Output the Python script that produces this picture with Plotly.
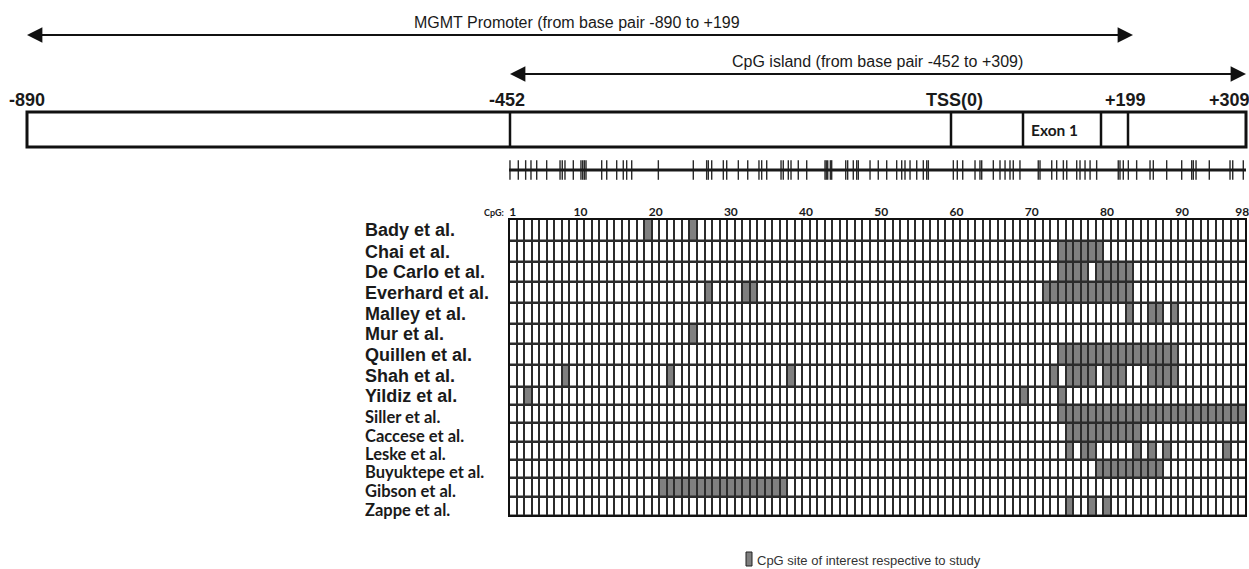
import plotly.graph_objects as go

# ---------------- DATA ----------------
studies = ["Bady et al.", "Chai et al.", "De Carlo et al.", "Everhard et al.", "Malley et al.",
           "Mur et al.", "Quillen et al.", "Shah et al.", "Yildiz et al.", "Siller et al.",
           "Caccese et al.", "Leske et al.", "Buyuktepe et al.", "Gibson et al.", "Zappe et al."]

bady_sites = [19, 25]
chai_sites = [74, 75, 76, 77, 78, 79]
decarlo_sites = [74, 75, 76, 77, 79, 80, 81, 82, 83]
everhard_sites = [27, 32, 33, 72, 73, 74, 75, 76, 77, 78, 79, 80, 81, 82, 83]
malley_sites = [83, 86, 87, 89]
mur_sites = [25]
quillen_sites = [74, 75, 76, 77, 78, 79, 80, 81, 82, 83, 84, 85, 86, 87, 88, 89]
shah_sites = [8, 22, 38, 73, 75, 76, 77, 78, 80, 81, 82, 86, 87, 88, 89]
yildiz_sites = [3, 69, 74]
siller_sites = [74, 75, 76, 77, 78, 79, 80, 81, 82, 83, 84, 85, 86, 87, 88, 89, 90, 91, 92,
                93, 94, 95, 96, 97, 98]
caccese_sites = [75, 76, 77, 78, 79, 80, 81, 82, 83, 84]
leske_sites = [75, 77, 78, 84, 86, 88, 96]
buyuktepe_sites = [79, 80, 81, 82, 83, 84, 85, 86, 87]
gibson_sites = [21, 22, 23, 24, 25, 26, 27, 28, 29, 30, 31, 32, 33, 34, 35, 36, 37]
zappe_sites = [75, 78, 80]

study_sites = [bady_sites, chai_sites, decarlo_sites, everhard_sites, malley_sites, mur_sites,
               quillen_sites, shah_sites, yildiz_sites, siller_sites, caccese_sites, leske_sites,
               buyuktepe_sites, gibson_sites, zappe_sites]

n_cpg = 98
cpg_tick_vals = [1, 10, 20, 30, 40, 50, 60, 70, 80, 90, 98]

# CpG site positions along the CpG island (bp)
cpg_positions_bp = [-451.0, -442.4, -434.8, -429.3, -423.4, -413.1, -399.3, -397.0, -394.2,
                    -385.6, -377.7, -375.9, -374.2, -372.5, -356.3, -351.1, -340.8, -334.0,
                    -330.5, -325.3, -297.8, -261.7, -247.9, -246.2, -242.7, -230.7, -227.2,
                    -215.2, -205.5, -193.9, -191.1, -185.9, -171.1, -168.8, -163.6, -160.8,
                    -153.3, -144.6, -125.7, -124.4, -122.9, -120.2, -118.8, -104.3, -102.3,
                    -96.5, -93.0, -91.3, -79.2, -70.7, -62.0, -51.7, -46.5, -43.1, -37.9,
                    -31.0, -24.2, -20.7, -19.0, 6.8, 10.9, 16.5, 29.2, 34.3, 36.1, 48.1,
                    55.0, 60.2, 65.3, 68.7, 75.6, 94.5, 96.3, 108.4, 113.5, 120.4, 123.9,
                    134.2, 137.6, 142.8, 148.0, 154.8, 177.1, 178.9, 182.3, 187.5, 196.1,
                    209.9, 213.3, 227.1, 242.6, 252.9, 254.6, 257.4, 271.1, 292.5, 295.3,
                    306.2]
island_start_bp = -452
island_end_bp = 309

region_labels = ["-890", "-452", "TSS(0)", "+199", "+309"]
promoter_text = "MGMT Promoter (from base pair -890 to +199"
island_text = "CpG island (from base pair -452 to +309)"
exon_text = "Exon 1"
legend_text = "CpG site of interest respective to study"

# ---------------- LAYOUT CONSTANTS ----------------
W, H = 1249, 569
GRID_X0, GRID_X1 = 509, 1246
GRID_Y0, GRID_Y1 = 219, 516
ROW_HEIGHTS = [22, 21, 20, 21, 21, 20, 21, 22, 18, 18, 19, 18, 18, 19, 19]
LINE_Y = 170
BOX_X0, BOX_X1, BOX_Y0, BOX_Y1 = 27, 1246, 112, 147
DIVIDERS = [510, 951, 1023, 1101, 1128]
LABEL_X = [27, 507, 954, 1125, 1229]
LABEL_Y = 100
STUDY_LABEL_X = 363
ARROWS = [(27, 1133, 35), (510, 1246, 74)]

TXT = "#1a1a1a"
GREY = "#7f7f7f"

row_edges = [0]
for h in ROW_HEIGHTS:
    row_edges.append(row_edges[-1] + h)
row_centers = [(row_edges[i] + row_edges[i + 1]) / 2 for i in range(len(ROW_HEIGHTS))]

cpg_index = list(range(1, n_cpg + 1))
z = [[1 if c in sites else 0 for c in cpg_index] for sites in study_sites]

fig = go.Figure()

fig.add_trace(go.Heatmap(
    x=cpg_index, y=row_edges, z=z, xaxis="x2", yaxis="y2",
    colorscale=[[0, "#ffffff"], [1, GREY]], zmin=0, zmax=1, showscale=False,
    xgap=2, ygap=2.5, hoverinfo="skip"))

fig.add_trace(go.Scatter(
    x=cpg_positions_bp, y=[LINE_Y] * len(cpg_positions_bp), xaxis="x3", yaxis="y",
    mode="markers", marker=dict(symbol="line-ns", size=14,
                                line=dict(width=1.4, color="#2a2a2a")),
    hoverinfo="skip", showlegend=False))

shapes = []
shapes.append(dict(type="rect", xref="x2 domain", yref="y2 domain", x0=0, x1=1, y0=0, y1=1,
                   fillcolor="#2b2b2b", line=dict(width=0), layer="below"))
shapes.append(dict(type="rect", xref="x2 domain", yref="y2 domain", x0=0, x1=1, y0=0, y1=1,
                   fillcolor="rgba(0,0,0,0)", line=dict(width=2, color="#111111")))
shapes.append(dict(type="rect", xref="x", yref="y", x0=BOX_X0, x1=BOX_X1, y0=BOX_Y0, y1=BOX_Y1,
                   line=dict(width=3, color="#111111"), fillcolor="rgba(0,0,0,0)"))
for dx in DIVIDERS:
    shapes.append(dict(type="line", xref="x", yref="y", x0=dx, x1=dx, y0=BOX_Y0, y1=BOX_Y1,
                       line=dict(width=2.5, color="#111111")))
shapes.append(dict(type="line", xref="x3 domain", yref="y", x0=0, x1=1, y0=LINE_Y, y1=LINE_Y,
                   line=dict(width=3, color="#1a1a1a")))
shapes.append(dict(type="rect", xref="x", yref="y", x0=746, x1=752, y0=552, y1=566,
                   fillcolor=GREY, line=dict(width=1, color="#222222")))
for (xa, xb, yy) in ARROWS:
    shapes.append(dict(type="line", xref="x", yref="y", x0=xa + 6, x1=xb - 6, y0=yy, y1=yy,
                       line=dict(width=2.2, color="#111111")))

ann = []
for (xa, xb, yy) in ARROWS:
    for tip, back in ((xa, xa + 40), (xb, xb - 40)):
        ann.append(dict(x=tip, y=yy, ax=back, ay=yy, xref="x", yref="y", axref="x", ayref="y",
                        text="", showarrow=True, arrowhead=2, arrowsize=1.4, arrowwidth=2.2,
                        arrowcolor="#111111", standoff=0, startstandoff=0))
ann.append(dict(x=577, y=22, xref="x", yref="y", text=promoter_text, showarrow=False,
                font=dict(family="Liberation Sans", size=16, color=TXT)))
ann.append(dict(x=877, y=61, xref="x", yref="y", text=island_text, showarrow=False,
                font=dict(family="Liberation Sans", size=16, color=TXT)))
for lbl, lx in zip(region_labels, LABEL_X):
    ann.append(dict(x=lx, y=LABEL_Y, xref="x", yref="y", text="<b>%s</b>" % lbl,
                    showarrow=False, font=dict(family="Liberation Sans", size=18, color=TXT)))
ann.append(dict(x=(DIVIDERS[2] + DIVIDERS[3]) / 2 - 8, y=(BOX_Y0 + BOX_Y1) / 2, xref="x", yref="y",
                text="<b>%s</b>" % exon_text, showarrow=False,
                font=dict(family="Lato", size=15.5, color=TXT)))
ann.append(dict(x=GRID_X0 - 3, y=212, xref="x", yref="y", text="<b>CpG:</b>", xanchor="right",
                showarrow=False, font=dict(family="Lato", size=9, color=TXT)))
for i, (name, yc) in enumerate(zip(studies, row_centers)):
    if i < 9:
        f = dict(family="Liberation Sans", size=18, color=TXT)
        ys = 0
    else:
        f = dict(family="Lato", size=16.5, color=TXT)
        ys = -3
    ann.append(dict(x=STUDY_LABEL_X, y=yc, xref="x", yref="y2", text="<b>%s</b>" % name,
                    xanchor="left", showarrow=False, font=f, yshift=ys))
ann.append(dict(x=755, y=560, xref="x", yref="y", text=legend_text, xanchor="left",
                showarrow=False, font=dict(family="Liberation Sans", size=13, color="#333333")))

fig.update_layout(
    width=W, height=H, autosize=False, margin=dict(l=0, r=0, t=0, b=0, autoexpand=False),
    paper_bgcolor="white", plot_bgcolor="rgba(0,0,0,0)", showlegend=False,
    shapes=shapes, annotations=ann,
    xaxis=dict(range=[0, W], domain=[0, 1], visible=False, fixedrange=True),
    yaxis=dict(range=[H, 0], domain=[0, 1], visible=False, fixedrange=True),
    xaxis2=dict(range=[0.5, n_cpg + 0.5], domain=[GRID_X0 / W, GRID_X1 / W], anchor="y2",
                side="top", tickvals=cpg_tick_vals,
                ticktext=["<b>%d</b>" % v for v in cpg_tick_vals],
                tickfont=dict(family="Lato", size=12, color=TXT), ticks="",
                ticklabeloverflow="allow", automargin=False,
                showgrid=False, zeroline=False, showline=False, fixedrange=True),
    yaxis2=dict(range=[row_edges[-1], 0], domain=[1 - GRID_Y1 / H, 1 - GRID_Y0 / H],
                anchor="x2", visible=False, fixedrange=True),
    xaxis3=dict(range=[island_start_bp, island_end_bp], domain=[GRID_X0 / W, GRID_X1 / W],
                anchor="y", visible=False, fixedrange=True),
)

post = ("document.documentElement.style.overflow='hidden';"
        "document.body.style.margin='0';document.body.style.overflow='hidden';")

fig.write_html("out.html", config={"displayModeBar": False}, post_script=post)
